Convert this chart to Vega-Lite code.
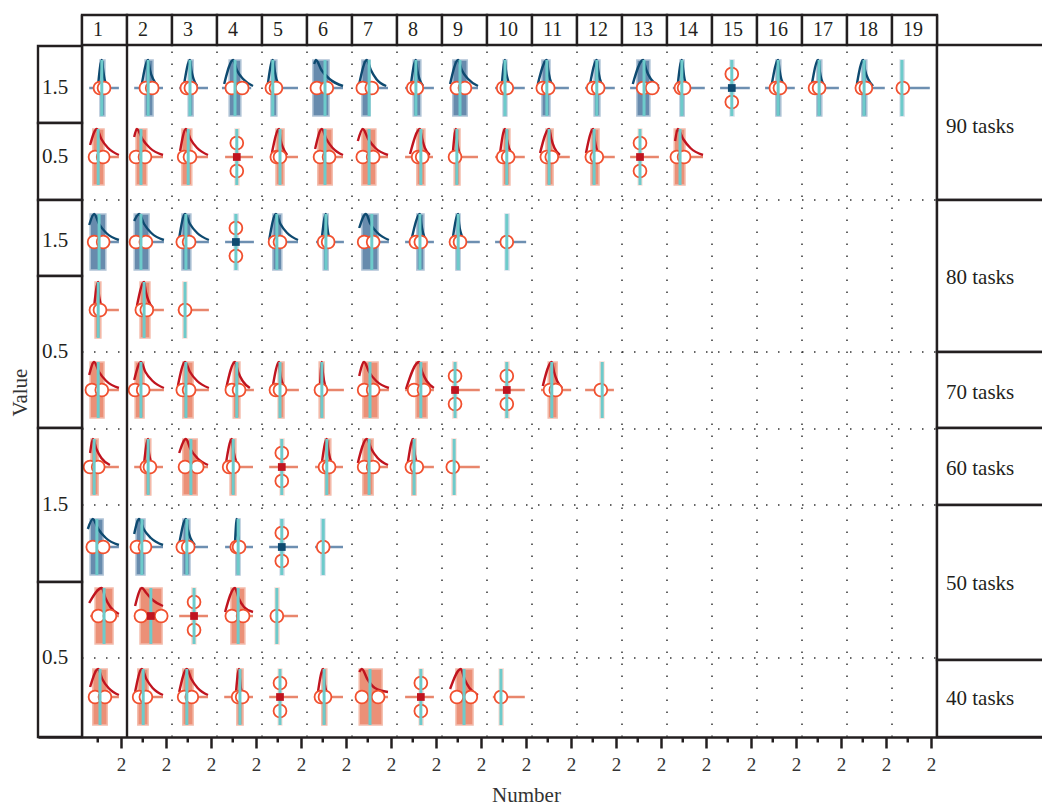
{
 "$schema": "https://vega.github.io/schema/vega-lite/v6.json",
 "width": 1004, "height": 722,
 "autosize": {"type": "none"},
 "padding": {"left": 38, "top": 15, "right": 0, "bottom": 69},
 "background": "white",
 "config": {"view": {"stroke": null}, "font": "Liberation Serif"},
 "datasets": {
  "hgrid": [{"y":53.7,"x0":0,"x1":19},{"y":38.5,"x0":0,"x1":19},{"y":30.8,"x0":0,"x1":19},{"y":23.2,"x0":0,"x1":19},{"y":7.9,"x0":0,"x1":19}],
  "vgrid": [{"x":2},{"x":3},{"x":4},{"x":5},{"x":6},{"x":7},{"x":8},{"x":9},{"x":10},{"x":11},{"x":12},{"x":13},{"x":14},{"x":15},{"x":16},{"x":17},{"x":18}],
  "vsolid": [{"x":0},{"x":1},{"x":19}],
  "sticks": [{"x":0.35},{"x":1.35},{"x":2.35},{"x":3.35},{"x":4.35},{"x":5.35},{"x":6.35},{"x":7.35},{"x":8.35},{"x":9.35},{"x":10.35},{"x":11.35},{"x":12.35},{"x":13.35},{"x":14.35},{"x":15.35},{"x":16.35},{"x":17.35},{"x":18.35}],
  "cols": [{"n":"1","a":0,"b":1},{"n":"2","a":1,"b":2},{"n":"3","a":2,"b":3},{"n":"4","a":3,"b":4},{"n":"5","a":4,"b":5},{"n":"6","a":5,"b":6},{"n":"7","a":6,"b":7},{"n":"8","a":7,"b":8},{"n":"9","a":8,"b":9},{"n":"10","a":9,"b":10},{"n":"11","a":10,"b":11},{"n":"12","a":11,"b":12},{"n":"13","a":12,"b":13},{"n":"14","a":13,"b":14},{"n":"15","a":14,"b":15},{"n":"16","a":15,"b":16},{"n":"17","a":16,"b":17},{"n":"18","a":17,"b":18},{"n":"19","a":18,"b":19}],
  "lstrip": [{"lab":"1.5","y0":61.4,"y1":69.1,"ly":64.9},{"lab":"0.5","y0":53.7,"y1":61.4,"ly":58.0},{"lab":"1.5","y0":46.1,"y1":53.7,"ly":49.6},{"lab":"0.5","y0":30.9,"y1":46.1,"ly":38.5},{"lab":"1.5","y0":15.5,"y1":30.9,"ly":23.2},{"lab":"0.5","y0":0,"y1":15.5,"ly":7.9}],
  "rstrip": [{"lab":"90 tasks","y0":53.7,"y1":69.2,"ly":61.0},{"lab":"80 tasks","y0":38.5,"y1":53.7,"ly":45.9},{"lab":"70 tasks","y0":30.9,"y1":38.5,"ly":34.4},{"lab":"60 tasks","y0":23.2,"y1":30.9,"ly":26.8},{"lab":"50 tasks","y0":7.7,"y1":23.2,"ly":15.3},{"lab":"40 tasks","y0":0,"y1":7.7,"ly":3.8}],
  "glyph": [
   {"g":"A1","k":"b","t":"N","yc":64.9,"y1":62.1,"y2":67.7,"bl":0.4,"br":0.51,"cx":0.44,"hl":0.16,"hr":0.82},
   {"g":"A2","k":"b","t":"N","yc":64.9,"y1":62.1,"y2":67.7,"bl":1.4,"br":1.58,"cx":1.47,"hl":1.16,"hr":1.8},
   {"g":"A3","k":"b","t":"N","yc":64.9,"y1":62.1,"y2":67.7,"bl":2.36,"br":2.47,"cx":2.4,"hl":2.16,"hr":2.8},
   {"g":"A4","k":"b","t":"N","yc":64.9,"y1":62.1,"y2":67.7,"bl":3.27,"br":3.53,"cx":3.4,"hl":3.11,"hr":3.76},
   {"g":"A5","k":"b","t":"N","yc":64.9,"y1":62.1,"y2":67.7,"bl":4.2,"br":4.33,"cx":4.24,"hl":4.13,"hr":4.8},
   {"g":"A6","k":"b","t":"N","yc":64.9,"y1":62.1,"y2":67.7,"bl":5.13,"br":5.49,"cx":5.4,"hl":5.07,"hr":5.8},
   {"g":"A7","k":"b","t":"N","yc":64.9,"y1":62.1,"y2":67.7,"bl":6.22,"br":6.4,"cx":6.38,"hl":6.18,"hr":6.8},
   {"g":"A8","k":"b","t":"N","yc":64.9,"y1":62.1,"y2":67.7,"bl":7.36,"br":7.53,"cx":7.42,"hl":7.18,"hr":7.82},
   {"g":"A9","k":"b","t":"N","yc":64.9,"y1":62.1,"y2":67.7,"bl":8.24,"br":8.56,"cx":8.4,"hl":8.18,"hr":8.8},
   {"g":"A10","k":"b","t":"N","yc":64.9,"y1":62.1,"y2":67.7,"bl":9.36,"br":9.44,"cx":9.4,"hl":9.18,"hr":9.84},
   {"g":"A11","k":"b","t":"N","yc":64.9,"y1":62.1,"y2":67.7,"bl":10.22,"br":10.4,"cx":10.33,"hl":10.11,"hr":10.82},
   {"g":"A12","k":"b","t":"N","yc":64.9,"y1":62.1,"y2":67.7,"bl":11.38,"br":11.51,"cx":11.44,"hl":11.18,"hr":11.84},
   {"g":"A13","k":"b","t":"N","yc":64.9,"y1":62.1,"y2":67.7,"bl":12.33,"br":12.62,"cx":12.49,"hl":12.18,"hr":12.84},
   {"g":"A14","k":"b","t":"N","yc":64.9,"y1":62.1,"y2":67.7,"bl":13.29,"br":13.38,"cx":13.33,"hl":13.13,"hr":13.84},
   {"g":"A15","k":"b","t":"X","yc":64.9,"y1":62.1,"y2":67.7,"bl":14.4,"br":14.49,"cx":14.44,"hl":14.18,"hr":14.84},
   {"g":"A16","k":"b","t":"N","yc":64.9,"y1":62.1,"y2":67.7,"bl":15.42,"br":15.53,"cx":15.47,"hl":15.18,"hr":15.84},
   {"g":"A17","k":"b","t":"N","yc":64.9,"y1":62.1,"y2":67.7,"bl":16.33,"br":16.44,"cx":16.38,"hl":16.18,"hr":16.82},
   {"g":"A18","k":"b","t":"N","yc":64.9,"y1":62.1,"y2":67.7,"bl":17.33,"br":17.44,"cx":17.38,"hl":17.18,"hr":17.84},
   {"g":"A19","k":"b","t":"S","yc":64.9,"y1":62.1,"y2":67.7,"bl":18.18,"br":18.27,"cx":18.22,"hl":18.11,"hr":18.84},
   {"g":"B1","k":"r","t":"N","yc":58.0,"y1":55.2,"y2":60.8,"bl":0.24,"br":0.49,"cx":0.36,"hl":0.18,"hr":0.82},
   {"g":"B2","k":"r","t":"N","yc":58.0,"y1":55.2,"y2":60.8,"bl":1.2,"br":1.44,"cx":1.31,"hl":1.16,"hr":1.8},
   {"g":"B3","k":"r","t":"N","yc":58.0,"y1":55.2,"y2":60.8,"bl":2.22,"br":2.44,"cx":2.36,"hl":2.18,"hr":2.8},
   {"g":"B4","k":"r","t":"X","yc":58.0,"y1":55.2,"y2":60.8,"bl":3.4,"br":3.49,"cx":3.44,"hl":3.18,"hr":3.8},
   {"g":"B5","k":"r","t":"N","yc":58.0,"y1":55.2,"y2":60.8,"bl":4.31,"br":4.49,"cx":4.4,"hl":4.18,"hr":4.8},
   {"g":"B6","k":"r","t":"N","yc":58.0,"y1":55.2,"y2":60.8,"bl":5.24,"br":5.56,"cx":5.4,"hl":5.18,"hr":5.8},
   {"g":"B7","k":"r","t":"N","yc":58.0,"y1":55.2,"y2":60.8,"bl":6.22,"br":6.53,"cx":6.38,"hl":6.18,"hr":6.8},
   {"g":"B8","k":"r","t":"N","yc":58.0,"y1":55.2,"y2":60.8,"bl":7.44,"br":7.62,"cx":7.53,"hl":7.18,"hr":7.8},
   {"g":"B9","k":"r","t":"N","yc":58.0,"y1":55.2,"y2":60.8,"bl":8.27,"br":8.4,"cx":8.33,"hl":8.18,"hr":8.8},
   {"g":"B10","k":"r","t":"N","yc":58.0,"y1":55.2,"y2":60.8,"bl":9.36,"br":9.51,"cx":9.44,"hl":9.18,"hr":9.84},
   {"g":"B11","k":"r","t":"N","yc":58.0,"y1":55.2,"y2":60.8,"bl":10.31,"br":10.47,"cx":10.38,"hl":10.18,"hr":10.84},
   {"g":"B12","k":"r","t":"N","yc":58.0,"y1":55.2,"y2":60.8,"bl":11.31,"br":11.49,"cx":11.38,"hl":11.18,"hr":11.84},
   {"g":"B13","k":"r","t":"X","yc":58.0,"y1":55.2,"y2":60.8,"bl":12.36,"br":12.44,"cx":12.4,"hl":12.18,"hr":12.82},
   {"g":"B14","k":"r","t":"N","yc":58.0,"y1":55.2,"y2":60.8,"bl":13.16,"br":13.4,"cx":13.29,"hl":13.18,"hr":13.8},
   {"g":"C1","k":"b","t":"N","yc":49.5,"y1":46.7,"y2":52.3,"bl":0.18,"br":0.53,"cx":0.38,"hl":0.18,"hr":0.82},
   {"g":"C2","k":"b","t":"N","yc":49.5,"y1":46.7,"y2":52.3,"bl":1.16,"br":1.49,"cx":1.31,"hl":1.16,"hr":1.82},
   {"g":"C3","k":"b","t":"N","yc":49.5,"y1":46.7,"y2":52.3,"bl":2.22,"br":2.42,"cx":2.31,"hl":2.18,"hr":2.82},
   {"g":"C4","k":"b","t":"X","yc":49.5,"y1":46.7,"y2":52.3,"bl":3.38,"br":3.47,"cx":3.42,"hl":3.18,"hr":3.82},
   {"g":"C5","k":"b","t":"N","yc":49.5,"y1":46.7,"y2":52.3,"bl":4.24,"br":4.44,"cx":4.33,"hl":4.18,"hr":4.8},
   {"g":"C6","k":"b","t":"N","yc":49.5,"y1":46.7,"y2":52.3,"bl":5.36,"br":5.47,"cx":5.42,"hl":5.2,"hr":5.82},
   {"g":"C7","k":"b","t":"N","yc":49.5,"y1":46.7,"y2":52.3,"bl":6.22,"br":6.58,"cx":6.44,"hl":6.18,"hr":6.82},
   {"g":"C8","k":"b","t":"N","yc":49.5,"y1":46.7,"y2":52.3,"bl":7.44,"br":7.6,"cx":7.51,"hl":7.18,"hr":7.82},
   {"g":"C9","k":"b","t":"N","yc":49.5,"y1":46.7,"y2":52.3,"bl":8.31,"br":8.4,"cx":8.36,"hl":8.18,"hr":8.84},
   {"g":"C10","k":"b","t":"S","yc":49.5,"y1":46.7,"y2":52.3,"bl":9.4,"br":9.49,"cx":9.44,"hl":9.18,"hr":9.87},
   {"g":"D1","k":"r","t":"N","yc":42.7,"y1":39.9,"y2":45.5,"bl":0.29,"br":0.42,"cx":0.36,"hl":0.2,"hr":0.82},
   {"g":"D2","k":"r","t":"N","yc":42.7,"y1":39.9,"y2":45.5,"bl":1.29,"br":1.51,"cx":1.38,"hl":1.18,"hr":1.82},
   {"g":"D3","k":"r","t":"S","yc":42.7,"y1":39.9,"y2":45.5,"bl":2.24,"br":2.33,"cx":2.29,"hl":2.13,"hr":2.82},
   {"g":"E1","k":"r","t":"N","yc":34.7,"y1":31.9,"y2":37.5,"bl":0.18,"br":0.49,"cx":0.36,"hl":0.18,"hr":0.82},
   {"g":"E2","k":"r","t":"N","yc":34.7,"y1":31.9,"y2":37.5,"bl":1.18,"br":1.38,"cx":1.31,"hl":1.18,"hr":1.82},
   {"g":"E3","k":"r","t":"N","yc":34.7,"y1":31.9,"y2":37.5,"bl":2.24,"br":2.47,"cx":2.31,"hl":2.18,"hr":2.82},
   {"g":"E4","k":"r","t":"N","yc":34.7,"y1":31.9,"y2":37.5,"bl":3.36,"br":3.51,"cx":3.44,"hl":3.18,"hr":3.82},
   {"g":"E5","k":"r","t":"N","yc":34.7,"y1":31.9,"y2":37.5,"bl":4.36,"br":4.49,"cx":4.4,"hl":4.16,"hr":4.82},
   {"g":"E6","k":"r","t":"N","yc":34.7,"y1":31.9,"y2":37.5,"bl":5.27,"br":5.38,"cx":5.33,"hl":5.2,"hr":5.82},
   {"g":"E7","k":"r","t":"N","yc":34.7,"y1":31.9,"y2":37.5,"bl":6.24,"br":6.58,"cx":6.4,"hl":6.18,"hr":6.82},
   {"g":"E8","k":"r","t":"N","yc":34.7,"y1":31.9,"y2":37.5,"bl":7.42,"br":7.67,"cx":7.53,"hl":7.18,"hr":7.82},
   {"g":"E9","k":"r","t":"X","yc":34.7,"y1":31.9,"y2":37.5,"bl":8.24,"br":8.33,"cx":8.29,"hl":8.2,"hr":8.84},
   {"g":"E10","k":"r","t":"X","yc":34.7,"y1":31.9,"y2":37.5,"bl":9.4,"br":9.49,"cx":9.44,"hl":9.18,"hr":9.84},
   {"g":"E11","k":"r","t":"N","yc":34.7,"y1":31.9,"y2":37.5,"bl":10.36,"br":10.56,"cx":10.44,"hl":10.2,"hr":10.87},
   {"g":"E12","k":"r","t":"S","yc":34.7,"y1":31.9,"y2":37.5,"bl":11.51,"br":11.6,"cx":11.56,"hl":11.18,"hr":11.82},
   {"g":"F1","k":"r","t":"N","yc":27.0,"y1":24.2,"y2":29.8,"bl":0.2,"br":0.36,"cx":0.27,"hl":0.18,"hr":0.82},
   {"g":"F2","k":"r","t":"N","yc":27.0,"y1":24.2,"y2":29.8,"bl":1.4,"br":1.53,"cx":1.47,"hl":1.16,"hr":1.8},
   {"g":"F3","k":"r","t":"N","yc":27.0,"y1":24.2,"y2":29.8,"bl":2.24,"br":2.56,"cx":2.42,"hl":2.18,"hr":2.8},
   {"g":"F4","k":"r","t":"N","yc":27.0,"y1":24.2,"y2":29.8,"bl":3.29,"br":3.42,"cx":3.36,"hl":3.18,"hr":3.8},
   {"g":"F5","k":"r","t":"X","yc":27.0,"y1":24.2,"y2":29.8,"bl":4.4,"br":4.49,"cx":4.44,"hl":4.16,"hr":4.8},
   {"g":"F6","k":"r","t":"N","yc":27.0,"y1":24.2,"y2":29.8,"bl":5.4,"br":5.53,"cx":5.44,"hl":5.18,"hr":5.8},
   {"g":"F7","k":"r","t":"N","yc":27.0,"y1":24.2,"y2":29.8,"bl":6.24,"br":6.47,"cx":6.38,"hl":6.18,"hr":6.8},
   {"g":"F8","k":"r","t":"N","yc":27.0,"y1":24.2,"y2":29.8,"bl":7.33,"br":7.42,"cx":7.38,"hl":7.18,"hr":7.82},
   {"g":"F9","k":"r","t":"S","yc":27.0,"y1":24.2,"y2":29.8,"bl":8.22,"br":8.31,"cx":8.27,"hl":8.11,"hr":8.84},
   {"g":"G1","k":"b","t":"N","yc":19.0,"y1":16.2,"y2":21.8,"bl":0.18,"br":0.47,"cx":0.33,"hl":0.18,"hr":0.82},
   {"g":"G2","k":"b","t":"N","yc":19.0,"y1":16.2,"y2":21.8,"bl":1.2,"br":1.4,"cx":1.33,"hl":1.16,"hr":1.8},
   {"g":"G3","k":"b","t":"N","yc":19.0,"y1":16.2,"y2":21.8,"bl":2.24,"br":2.4,"cx":2.33,"hl":2.16,"hr":2.8},
   {"g":"G4","k":"b","t":"N","yc":19.0,"y1":16.2,"y2":21.8,"bl":3.42,"br":3.51,"cx":3.47,"hl":3.18,"hr":3.8},
   {"g":"G5","k":"b","t":"X","yc":19.0,"y1":16.2,"y2":21.8,"bl":4.4,"br":4.49,"cx":4.44,"hl":4.16,"hr":4.8},
   {"g":"G6","k":"b","t":"S","yc":19.0,"y1":16.2,"y2":21.8,"bl":5.31,"br":5.4,"cx":5.36,"hl":5.18,"hr":5.8},
   {"g":"H1","k":"r","t":"N","yc":12.1,"y1":9.3,"y2":14.9,"bl":0.29,"br":0.69,"cx":0.49,"hl":0.18,"hr":0.82},
   {"g":"H2","k":"r","t":"N","yc":12.1,"y1":9.3,"y2":14.9,"bl":1.29,"br":1.78,"cx":1.53,"hl":1.18,"hr":1.8},
   {"g":"H3","k":"r","t":"X","yc":12.1,"y1":9.3,"y2":14.9,"bl":2.44,"br":2.53,"cx":2.49,"hl":2.16,"hr":2.8},
   {"g":"H4","k":"r","t":"N","yc":12.1,"y1":9.3,"y2":14.9,"bl":3.31,"br":3.62,"cx":3.47,"hl":3.18,"hr":3.8},
   {"g":"H5","k":"r","t":"S","yc":12.1,"y1":9.3,"y2":14.9,"bl":4.29,"br":4.38,"cx":4.33,"hl":4.18,"hr":4.8},
   {"g":"I1","k":"r","t":"N","yc":4.0,"y1":1.2,"y2":6.8,"bl":0.24,"br":0.56,"cx":0.4,"hl":0.18,"hr":0.82},
   {"g":"I2","k":"r","t":"N","yc":4.0,"y1":1.2,"y2":6.8,"bl":1.24,"br":1.47,"cx":1.36,"hl":1.18,"hr":1.8},
   {"g":"I3","k":"r","t":"N","yc":4.0,"y1":1.2,"y2":6.8,"bl":2.24,"br":2.47,"cx":2.33,"hl":2.16,"hr":2.8},
   {"g":"I4","k":"r","t":"N","yc":4.0,"y1":1.2,"y2":6.8,"bl":3.44,"br":3.58,"cx":3.51,"hl":3.16,"hr":3.8},
   {"g":"I5","k":"r","t":"X","yc":4.0,"y1":1.2,"y2":6.8,"bl":4.36,"br":4.44,"cx":4.4,"hl":4.16,"hr":4.8},
   {"g":"I6","k":"r","t":"N","yc":4.0,"y1":1.2,"y2":6.8,"bl":5.33,"br":5.44,"cx":5.38,"hl":5.18,"hr":5.8},
   {"g":"I7","k":"r","t":"N","yc":4.0,"y1":1.2,"y2":6.8,"bl":6.16,"br":6.67,"cx":6.4,"hl":6.18,"hr":6.8},
   {"g":"I8","k":"r","t":"X","yc":4.0,"y1":1.2,"y2":6.8,"bl":7.49,"br":7.58,"cx":7.53,"hl":7.18,"hr":7.82},
   {"g":"I9","k":"r","t":"N","yc":4.0,"y1":1.2,"y2":6.8,"bl":8.31,"br":8.69,"cx":8.49,"hl":8.18,"hr":8.8},
   {"g":"I10","k":"r","t":"S","yc":4.0,"y1":1.2,"y2":6.8,"bl":9.27,"br":9.36,"cx":9.31,"hl":9.13,"hr":9.84}
  ],
  "dens": [
   {"g":"A1","k":"b","x":0.36,"y":65.3},{"g":"A1","k":"b","x":0.44,"y":67.7},{"g":"A1","k":"b","x":0.47,"y":66.7},{"g":"A1","k":"b","x":0.5,"y":65.8},{"g":"A1","k":"b","x":0.56,"y":65.1},
   {"g":"A2","k":"b","x":1.33,"y":65.3},{"g":"A2","k":"b","x":1.47,"y":67.7},{"g":"A2","k":"b","x":1.51,"y":66.7},{"g":"A2","k":"b","x":1.58,"y":65.8},{"g":"A2","k":"b","x":1.69,"y":65.1},
   {"g":"A3","k":"b","x":2.27,"y":65.3},{"g":"A3","k":"b","x":2.4,"y":67.7},{"g":"A3","k":"b","x":2.43,"y":66.7},{"g":"A3","k":"b","x":2.48,"y":65.8},{"g":"A3","k":"b","x":2.56,"y":65.1},
   {"g":"A4","k":"b","x":3.16,"y":65.3},{"g":"A4","k":"b","x":3.36,"y":67.7},{"g":"A4","k":"b","x":3.44,"y":66.7},{"g":"A4","k":"b","x":3.58,"y":65.8},{"g":"A4","k":"b","x":3.8,"y":65.1},
   {"g":"A5","k":"b","x":4.13,"y":65.3},{"g":"A5","k":"b","x":4.24,"y":67.7},{"g":"A5","k":"b","x":4.28,"y":66.7},{"g":"A5","k":"b","x":4.32,"y":65.8},{"g":"A5","k":"b","x":4.4,"y":65.1},
   {"g":"A6","k":"b","x":5.16,"y":67.3},{"g":"A6","k":"b","x":5.2,"y":67.7},{"g":"A6","k":"b","x":5.32,"y":66.7},{"g":"A6","k":"b","x":5.5,"y":65.8},{"g":"A6","k":"b","x":5.8,"y":65.1},
   {"g":"A7","k":"b","x":6.16,"y":65.3},{"g":"A7","k":"b","x":6.33,"y":67.7},{"g":"A7","k":"b","x":6.42,"y":66.7},{"g":"A7","k":"b","x":6.54,"y":65.8},{"g":"A7","k":"b","x":6.76,"y":65.1},
   {"g":"A8","k":"b","x":7.31,"y":65.3},{"g":"A8","k":"b","x":7.42,"y":67.7},{"g":"A8","k":"b","x":7.45,"y":66.7},{"g":"A8","k":"b","x":7.5,"y":65.8},{"g":"A8","k":"b","x":7.58,"y":65.1},
   {"g":"A9","k":"b","x":8.18,"y":65.3},{"g":"A9","k":"b","x":8.36,"y":67.7},{"g":"A9","k":"b","x":8.44,"y":66.7},{"g":"A9","k":"b","x":8.58,"y":65.8},{"g":"A9","k":"b","x":8.8,"y":65.1},
   {"g":"A10","k":"b","x":9.33,"y":65.3},{"g":"A10","k":"b","x":9.4,"y":67.7},{"g":"A10","k":"b","x":9.42,"y":66.7},{"g":"A10","k":"b","x":9.46,"y":65.8},{"g":"A10","k":"b","x":9.51,"y":65.1},
   {"g":"A11","k":"b","x":10.13,"y":65.3},{"g":"A11","k":"b","x":10.33,"y":67.7},{"g":"A11","k":"b","x":10.36,"y":66.7},{"g":"A11","k":"b","x":10.4,"y":65.8},{"g":"A11","k":"b","x":10.47,"y":65.1},
   {"g":"A12","k":"b","x":11.29,"y":65.3},{"g":"A12","k":"b","x":11.44,"y":67.7},{"g":"A12","k":"b","x":11.47,"y":66.7},{"g":"A12","k":"b","x":11.51,"y":65.8},{"g":"A12","k":"b","x":11.58,"y":65.1},
   {"g":"A13","k":"b","x":12.24,"y":65.3},{"g":"A13","k":"b","x":12.47,"y":67.7},{"g":"A13","k":"b","x":12.54,"y":66.7},{"g":"A13","k":"b","x":12.64,"y":65.8},{"g":"A13","k":"b","x":12.82,"y":65.1},
   {"g":"A14","k":"b","x":13.24,"y":65.3},{"g":"A14","k":"b","x":13.33,"y":67.7},{"g":"A14","k":"b","x":13.36,"y":66.7},{"g":"A14","k":"b","x":13.39,"y":65.8},{"g":"A14","k":"b","x":13.44,"y":65.1},
   {"g":"A16","k":"b","x":15.33,"y":65.3},{"g":"A16","k":"b","x":15.47,"y":67.7},{"g":"A16","k":"b","x":15.5,"y":66.7},{"g":"A16","k":"b","x":15.54,"y":65.8},{"g":"A16","k":"b","x":15.62,"y":65.1},
   {"g":"A17","k":"b","x":16.22,"y":65.3},{"g":"A17","k":"b","x":16.36,"y":67.7},{"g":"A17","k":"b","x":16.39,"y":66.7},{"g":"A17","k":"b","x":16.43,"y":65.8},{"g":"A17","k":"b","x":16.51,"y":65.1},
   {"g":"A18","k":"b","x":17.22,"y":65.3},{"g":"A18","k":"b","x":17.36,"y":67.7},{"g":"A18","k":"b","x":17.4,"y":66.7},{"g":"A18","k":"b","x":17.47,"y":65.8},{"g":"A18","k":"b","x":17.58,"y":65.1},
   {"g":"B1","k":"r","x":0.18,"y":59.2},{"g":"B1","k":"r","x":0.33,"y":60.8},{"g":"B1","k":"r","x":0.43,"y":59.8},{"g":"B1","k":"r","x":0.58,"y":58.9},{"g":"B1","k":"r","x":0.82,"y":58.2},
   {"g":"B2","k":"r","x":1.16,"y":60.0},{"g":"B2","k":"r","x":1.22,"y":60.8},{"g":"B2","k":"r","x":1.34,"y":59.8},{"g":"B2","k":"r","x":1.51,"y":58.9},{"g":"B2","k":"r","x":1.8,"y":58.2},
   {"g":"B3","k":"r","x":2.18,"y":58.6},{"g":"B3","k":"r","x":2.31,"y":60.8},{"g":"B3","k":"r","x":2.41,"y":59.8},{"g":"B3","k":"r","x":2.56,"y":58.9},{"g":"B3","k":"r","x":2.8,"y":58.2},
   {"g":"B5","k":"r","x":4.22,"y":58.4},{"g":"B5","k":"r","x":4.38,"y":60.8},{"g":"B5","k":"r","x":4.41,"y":59.8},{"g":"B5","k":"r","x":4.47,"y":58.9},{"g":"B5","k":"r","x":4.56,"y":58.2},
   {"g":"B6","k":"r","x":5.18,"y":58.8},{"g":"B6","k":"r","x":5.33,"y":60.8},{"g":"B6","k":"r","x":5.43,"y":59.8},{"g":"B6","k":"r","x":5.57,"y":58.9},{"g":"B6","k":"r","x":5.8,"y":58.2},
   {"g":"B7","k":"r","x":6.13,"y":59.6},{"g":"B7","k":"r","x":6.24,"y":60.8},{"g":"B7","k":"r","x":6.36,"y":59.8},{"g":"B7","k":"r","x":6.52,"y":58.9},{"g":"B7","k":"r","x":6.8,"y":58.2},
   {"g":"B8","k":"r","x":7.29,"y":58.3},{"g":"B8","k":"r","x":7.51,"y":60.8},{"g":"B8","k":"r","x":7.56,"y":59.8},{"g":"B8","k":"r","x":7.62,"y":58.9},{"g":"B8","k":"r","x":7.73,"y":58.2},
   {"g":"B9","k":"r","x":8.24,"y":58.4},{"g":"B9","k":"r","x":8.31,"y":60.8},{"g":"B9","k":"r","x":8.33,"y":59.8},{"g":"B9","k":"r","x":8.36,"y":58.9},{"g":"B9","k":"r","x":8.4,"y":58.2},
   {"g":"B10","k":"r","x":9.29,"y":58.4},{"g":"B10","k":"r","x":9.4,"y":60.8},{"g":"B10","k":"r","x":9.44,"y":59.8},{"g":"B10","k":"r","x":9.49,"y":58.9},{"g":"B10","k":"r","x":9.58,"y":58.2},
   {"g":"B11","k":"r","x":10.18,"y":58.4},{"g":"B11","k":"r","x":10.38,"y":60.8},{"g":"B11","k":"r","x":10.43,"y":59.8},{"g":"B11","k":"r","x":10.5,"y":58.9},{"g":"B11","k":"r","x":10.62,"y":58.2},
   {"g":"B12","k":"r","x":11.2,"y":58.4},{"g":"B12","k":"r","x":11.36,"y":60.8},{"g":"B12","k":"r","x":11.39,"y":59.8},{"g":"B12","k":"r","x":11.43,"y":58.9},{"g":"B12","k":"r","x":11.51,"y":58.2},
   {"g":"B14","k":"r","x":13.18,"y":59.6},{"g":"B14","k":"r","x":13.24,"y":60.8},{"g":"B14","k":"r","x":13.36,"y":59.8},{"g":"B14","k":"r","x":13.52,"y":58.9},{"g":"B14","k":"r","x":13.8,"y":58.2},
   {"g":"C1","k":"b","x":0.16,"y":51.2},{"g":"C1","k":"b","x":0.27,"y":52.3},{"g":"C1","k":"b","x":0.38,"y":51.3},{"g":"C1","k":"b","x":0.54,"y":50.4},{"g":"C1","k":"b","x":0.82,"y":49.7},
   {"g":"C2","k":"b","x":1.16,"y":51.6},{"g":"C2","k":"b","x":1.27,"y":52.3},{"g":"C2","k":"b","x":1.38,"y":51.3},{"g":"C2","k":"b","x":1.54,"y":50.4},{"g":"C2","k":"b","x":1.82,"y":49.7},
   {"g":"C3","k":"b","x":2.16,"y":49.9},{"g":"C3","k":"b","x":2.29,"y":52.3},{"g":"C3","k":"b","x":2.4,"y":51.3},{"g":"C3","k":"b","x":2.56,"y":50.4},{"g":"C3","k":"b","x":2.82,"y":49.7},
   {"g":"C5","k":"b","x":4.16,"y":49.7},{"g":"C5","k":"b","x":4.31,"y":52.3},{"g":"C5","k":"b","x":4.41,"y":51.3},{"g":"C5","k":"b","x":4.56,"y":50.4},{"g":"C5","k":"b","x":4.8,"y":49.7},
   {"g":"C6","k":"b","x":5.33,"y":49.9},{"g":"C6","k":"b","x":5.42,"y":52.3},{"g":"C6","k":"b","x":5.44,"y":51.3},{"g":"C6","k":"b","x":5.47,"y":50.4},{"g":"C6","k":"b","x":5.51,"y":49.7},
   {"g":"C7","k":"b","x":6.16,"y":50.9},{"g":"C7","k":"b","x":6.31,"y":52.3},{"g":"C7","k":"b","x":6.41,"y":51.3},{"g":"C7","k":"b","x":6.57,"y":50.4},{"g":"C7","k":"b","x":6.82,"y":49.7},
   {"g":"C8","k":"b","x":7.33,"y":49.9},{"g":"C8","k":"b","x":7.51,"y":52.3},{"g":"C8","k":"b","x":7.54,"y":51.3},{"g":"C8","k":"b","x":7.58,"y":50.4},{"g":"C8","k":"b","x":7.64,"y":49.7},
   {"g":"C9","k":"b","x":8.24,"y":49.9},{"g":"C9","k":"b","x":8.36,"y":52.3},{"g":"C9","k":"b","x":8.38,"y":51.3},{"g":"C9","k":"b","x":8.42,"y":50.4},{"g":"C9","k":"b","x":8.49,"y":49.7},
   {"g":"D1","k":"r","x":0.27,"y":43.1},{"g":"D1","k":"r","x":0.36,"y":45.5},{"g":"D1","k":"r","x":0.37,"y":44.5},{"g":"D1","k":"r","x":0.4,"y":43.6},{"g":"D1","k":"r","x":0.44,"y":42.9},
   {"g":"D2","k":"r","x":1.22,"y":43.1},{"g":"D2","k":"r","x":1.38,"y":45.5},{"g":"D2","k":"r","x":1.42,"y":44.5},{"g":"D2","k":"r","x":1.48,"y":43.6},{"g":"D2","k":"r","x":1.58,"y":42.9},
   {"g":"E1","k":"r","x":0.16,"y":36.2},{"g":"E1","k":"r","x":0.27,"y":37.5},{"g":"E1","k":"r","x":0.38,"y":36.5},{"g":"E1","k":"r","x":0.54,"y":35.6},{"g":"E1","k":"r","x":0.82,"y":34.9},
   {"g":"E2","k":"r","x":1.16,"y":35.7},{"g":"E2","k":"r","x":1.31,"y":37.5},{"g":"E2","k":"r","x":1.41,"y":36.5},{"g":"E2","k":"r","x":1.57,"y":35.6},{"g":"E2","k":"r","x":1.82,"y":34.9},
   {"g":"E3","k":"r","x":2.13,"y":35.1},{"g":"E3","k":"r","x":2.29,"y":37.5},{"g":"E3","k":"r","x":2.4,"y":36.5},{"g":"E3","k":"r","x":2.56,"y":35.6},{"g":"E3","k":"r","x":2.82,"y":34.9},
   {"g":"E4","k":"r","x":3.2,"y":34.8},{"g":"E4","k":"r","x":3.4,"y":37.5},{"g":"E4","k":"r","x":3.47,"y":36.5},{"g":"E4","k":"r","x":3.57,"y":35.6},{"g":"E4","k":"r","x":3.73,"y":34.9},
   {"g":"E5","k":"r","x":4.24,"y":35.1},{"g":"E5","k":"r","x":4.38,"y":37.5},{"g":"E5","k":"r","x":4.4,"y":36.5},{"g":"E5","k":"r","x":4.44,"y":35.6},{"g":"E5","k":"r","x":4.51,"y":34.9},
   {"g":"E6","k":"r","x":5.29,"y":35.1},{"g":"E6","k":"r","x":5.33,"y":37.5},{"g":"E6","k":"r","x":5.35,"y":36.5},{"g":"E6","k":"r","x":5.38,"y":35.6},{"g":"E6","k":"r","x":5.42,"y":34.9},
   {"g":"E7","k":"r","x":6.16,"y":36.1},{"g":"E7","k":"r","x":6.27,"y":37.5},{"g":"E7","k":"r","x":6.38,"y":36.5},{"g":"E7","k":"r","x":6.54,"y":35.6},{"g":"E7","k":"r","x":6.82,"y":34.9},
   {"g":"E8","k":"r","x":7.2,"y":34.8},{"g":"E8","k":"r","x":7.49,"y":37.5},{"g":"E8","k":"r","x":7.56,"y":36.5},{"g":"E8","k":"r","x":7.66,"y":35.6},{"g":"E8","k":"r","x":7.82,"y":34.9},
   {"g":"E11","k":"r","x":10.24,"y":35.1},{"g":"E11","k":"r","x":10.44,"y":37.5},{"g":"E11","k":"r","x":10.49,"y":36.5},{"g":"E11","k":"r","x":10.56,"y":35.6},{"g":"E11","k":"r","x":10.67,"y":34.9},
   {"g":"F1","k":"r","x":0.18,"y":28.4},{"g":"F1","k":"r","x":0.24,"y":29.8},{"g":"F1","k":"r","x":0.32,"y":28.8},{"g":"F1","k":"r","x":0.43,"y":27.9},{"g":"F1","k":"r","x":0.62,"y":27.2},
   {"g":"F2","k":"r","x":1.38,"y":27.4},{"g":"F2","k":"r","x":1.47,"y":29.8},{"g":"F2","k":"r","x":1.48,"y":28.8},{"g":"F2","k":"r","x":1.51,"y":27.9},{"g":"F2","k":"r","x":1.56,"y":27.2},
   {"g":"F3","k":"r","x":2.16,"y":28.4},{"g":"F3","k":"r","x":2.31,"y":29.8},{"g":"F3","k":"r","x":2.41,"y":28.8},{"g":"F3","k":"r","x":2.56,"y":27.9},{"g":"F3","k":"r","x":2.8,"y":27.2},
   {"g":"F4","k":"r","x":3.2,"y":27.4},{"g":"F4","k":"r","x":3.33,"y":29.8},{"g":"F4","k":"r","x":3.36,"y":28.8},{"g":"F4","k":"r","x":3.4,"y":27.9},{"g":"F4","k":"r","x":3.47,"y":27.2},
   {"g":"F6","k":"r","x":5.33,"y":27.4},{"g":"F6","k":"r","x":5.44,"y":29.8},{"g":"F6","k":"r","x":5.47,"y":28.8},{"g":"F6","k":"r","x":5.51,"y":27.9},{"g":"F6","k":"r","x":5.58,"y":27.2},
   {"g":"F7","k":"r","x":6.13,"y":27.4},{"g":"F7","k":"r","x":6.33,"y":29.8},{"g":"F7","k":"r","x":6.43,"y":28.8},{"g":"F7","k":"r","x":6.57,"y":27.9},{"g":"F7","k":"r","x":6.8,"y":27.2},
   {"g":"F8","k":"r","x":7.24,"y":27.4},{"g":"F8","k":"r","x":7.36,"y":29.8},{"g":"F8","k":"r","x":7.38,"y":28.8},{"g":"F8","k":"r","x":7.41,"y":27.9},{"g":"F8","k":"r","x":7.47,"y":27.2},
   {"g":"G1","k":"b","x":0.13,"y":20.8},{"g":"G1","k":"b","x":0.24,"y":21.8},{"g":"G1","k":"b","x":0.36,"y":20.8},{"g":"G1","k":"b","x":0.53,"y":19.9},{"g":"G1","k":"b","x":0.82,"y":19.2},
   {"g":"G2","k":"b","x":1.16,"y":20.3},{"g":"G2","k":"b","x":1.27,"y":21.8},{"g":"G2","k":"b","x":1.37,"y":20.8},{"g":"G2","k":"b","x":1.53,"y":19.9},{"g":"G2","k":"b","x":1.8,"y":19.2},
   {"g":"G3","k":"b","x":2.16,"y":19.3},{"g":"G3","k":"b","x":2.31,"y":21.8},{"g":"G3","k":"b","x":2.35,"y":20.8},{"g":"G3","k":"b","x":2.41,"y":19.9},{"g":"G3","k":"b","x":2.51,"y":19.2},
   {"g":"G4","k":"b","x":3.4,"y":19.4},{"g":"G4","k":"b","x":3.44,"y":21.8},{"g":"G4","k":"b","x":3.45,"y":20.8},{"g":"G4","k":"b","x":3.47,"y":19.9},{"g":"G4","k":"b","x":3.49,"y":19.2},
   {"g":"H1","k":"r","x":0.16,"y":13.4},{"g":"H1","k":"r","x":0.44,"y":14.9},{"g":"H1","k":"r","x":0.52,"y":13.9},{"g":"H1","k":"r","x":0.63,"y":13.0},{"g":"H1","k":"r","x":0.82,"y":12.3},
   {"g":"H2","k":"r","x":1.18,"y":13.1},{"g":"H2","k":"r","x":1.33,"y":14.9},{"g":"H2","k":"r","x":1.43,"y":14.4},{"g":"H2","k":"r","x":1.57,"y":13.7},{"g":"H2","k":"r","x":1.8,"y":13.1},
   {"g":"H4","k":"r","x":3.18,"y":12.5},{"g":"H4","k":"r","x":3.4,"y":14.9},{"g":"H4","k":"r","x":3.48,"y":13.9},{"g":"H4","k":"r","x":3.6,"y":13.0},{"g":"H4","k":"r","x":3.8,"y":12.5},
   {"g":"I1","k":"r","x":0.18,"y":5.0},{"g":"I1","k":"r","x":0.36,"y":6.8},{"g":"I1","k":"r","x":0.45,"y":5.8},{"g":"I1","k":"r","x":0.59,"y":4.9},{"g":"I1","k":"r","x":0.82,"y":4.2},
   {"g":"I2","k":"r","x":1.18,"y":4.5},{"g":"I2","k":"r","x":1.33,"y":6.8},{"g":"I2","k":"r","x":1.43,"y":5.8},{"g":"I2","k":"r","x":1.57,"y":4.9},{"g":"I2","k":"r","x":1.8,"y":4.2},
   {"g":"I3","k":"r","x":2.16,"y":4.5},{"g":"I3","k":"r","x":2.33,"y":6.8},{"g":"I3","k":"r","x":2.43,"y":5.8},{"g":"I3","k":"r","x":2.57,"y":4.9},{"g":"I3","k":"r","x":2.8,"y":4.2},
   {"g":"I4","k":"r","x":3.42,"y":4.4},{"g":"I4","k":"r","x":3.49,"y":6.8},{"g":"I4","k":"r","x":3.51,"y":5.8},{"g":"I4","k":"r","x":3.53,"y":4.9},{"g":"I4","k":"r","x":3.58,"y":4.2},
   {"g":"I6","k":"r","x":5.24,"y":4.4},{"g":"I6","k":"r","x":5.36,"y":6.8},{"g":"I6","k":"r","x":5.38,"y":5.8},{"g":"I6","k":"r","x":5.41,"y":4.9},{"g":"I6","k":"r","x":5.47,"y":4.2},
   {"g":"I7","k":"r","x":6.16,"y":6.5},{"g":"I7","k":"r","x":6.22,"y":6.8},{"g":"I7","k":"r","x":6.34,"y":5.8},{"g":"I7","k":"r","x":6.51,"y":4.9},{"g":"I7","k":"r","x":6.8,"y":4.5},
   {"g":"I9","k":"r","x":8.18,"y":4.8},{"g":"I9","k":"r","x":8.42,"y":6.8},{"g":"I9","k":"r","x":8.5,"y":5.8},{"g":"I9","k":"r","x":8.61,"y":4.9},{"g":"I9","k":"r","x":8.8,"y":4.2}
  ],
  "circ": [
   {"x":0.4,"y":64.9},{"x":0.49,"y":64.9},{"x":1.42,"y":64.9},{"x":1.56,"y":64.9},{"x":2.33,"y":64.9},{"x":2.42,"y":64.9},{"x":3.33,"y":64.9},{"x":3.56,"y":64.9},{"x":4.22,"y":64.9},{"x":4.31,"y":64.9},{"x":5.22,"y":64.9},{"x":5.44,"y":64.9},{"x":6.24,"y":64.9},{"x":6.44,"y":64.9},{"x":7.36,"y":64.9},{"x":7.44,"y":64.9},{"x":8.33,"y":64.9},{"x":8.51,"y":64.9},{"x":9.36,"y":64.9},{"x":9.44,"y":64.9},{"x":10.24,"y":64.9},{"x":10.36,"y":64.9},{"x":11.36,"y":64.9},{"x":11.47,"y":64.9},{"x":12.47,"y":64.9},{"x":12.67,"y":64.9},{"x":13.31,"y":64.9},{"x":13.38,"y":64.9},{"x":14.44,"y":63.5},{"x":14.44,"y":66.3},{"x":15.42,"y":64.9},{"x":15.51,"y":64.9},{"x":16.29,"y":64.9},{"x":16.38,"y":64.9},{"x":17.33,"y":64.9},{"x":17.42,"y":64.9},{"x":18.24,"y":64.9},
   {"x":0.29,"y":58.0},{"x":0.47,"y":58.0},{"x":1.2,"y":58.0},{"x":1.4,"y":58.0},{"x":2.27,"y":58.0},{"x":2.4,"y":58.0},{"x":3.44,"y":56.6},{"x":3.44,"y":59.4},{"x":4.33,"y":58.0},{"x":4.4,"y":58.0},{"x":5.29,"y":58.0},{"x":5.49,"y":58.0},{"x":6.24,"y":58.0},{"x":6.47,"y":58.0},{"x":7.47,"y":58.0},{"x":7.56,"y":58.0},{"x":8.29,"y":58.0},{"x":9.36,"y":58.0},{"x":9.47,"y":58.0},{"x":10.33,"y":58.0},{"x":10.44,"y":58.0},{"x":11.33,"y":58.0},{"x":11.44,"y":58.0},{"x":12.4,"y":56.6},{"x":12.4,"y":59.4},{"x":13.22,"y":58.0},{"x":13.38,"y":58.0},
   {"x":0.27,"y":49.5},{"x":0.47,"y":49.5},{"x":1.2,"y":49.5},{"x":1.42,"y":49.5},{"x":2.24,"y":49.5},{"x":2.38,"y":49.5},{"x":3.42,"y":48.1},{"x":3.42,"y":50.9},{"x":4.29,"y":49.5},{"x":4.4,"y":49.5},{"x":5.38,"y":49.5},{"x":5.47,"y":49.5},{"x":6.27,"y":49.5},{"x":6.47,"y":49.5},{"x":7.42,"y":49.5},{"x":7.53,"y":49.5},{"x":8.31,"y":49.5},{"x":8.4,"y":49.5},{"x":9.44,"y":49.5},
   {"x":0.31,"y":42.7},{"x":0.4,"y":42.7},{"x":1.33,"y":42.7},{"x":1.44,"y":42.7},{"x":2.29,"y":42.7},
   {"x":0.22,"y":34.7},{"x":0.44,"y":34.7},{"x":1.18,"y":34.7},{"x":1.36,"y":34.7},{"x":2.24,"y":34.7},{"x":2.38,"y":34.7},{"x":3.33,"y":34.7},{"x":3.49,"y":34.7},{"x":4.31,"y":34.7},{"x":4.4,"y":34.7},{"x":5.31,"y":34.7},{"x":6.27,"y":34.7},{"x":6.47,"y":34.7},{"x":7.38,"y":34.7},{"x":7.6,"y":34.7},{"x":8.29,"y":33.3},{"x":8.29,"y":36.1},{"x":9.44,"y":33.3},{"x":9.44,"y":36.1},{"x":10.4,"y":34.7},{"x":10.53,"y":34.7},{"x":11.53,"y":34.7},
   {"x":0.18,"y":27.0},{"x":0.36,"y":27.0},{"x":1.44,"y":27.0},{"x":1.51,"y":27.0},{"x":2.29,"y":27.0},{"x":2.56,"y":27.0},{"x":3.27,"y":27.0},{"x":3.36,"y":27.0},{"x":4.44,"y":25.6},{"x":4.44,"y":28.4},{"x":5.4,"y":27.0},{"x":5.49,"y":27.0},{"x":6.27,"y":27.0},{"x":6.47,"y":27.0},{"x":7.33,"y":27.0},{"x":7.44,"y":27.0},{"x":8.24,"y":27.0},
   {"x":0.24,"y":19.0},{"x":0.47,"y":19.0},{"x":1.22,"y":19.0},{"x":1.4,"y":19.0},{"x":2.24,"y":19.0},{"x":2.36,"y":19.0},{"x":3.44,"y":19.0},{"x":3.49,"y":19.0},{"x":4.44,"y":17.6},{"x":4.44,"y":20.4},{"x":5.36,"y":19.0},
   {"x":0.36,"y":12.1},{"x":0.62,"y":12.1},{"x":1.31,"y":12.1},{"x":1.76,"y":12.1},{"x":2.49,"y":10.7},{"x":2.49,"y":13.5},{"x":3.33,"y":12.1},{"x":3.58,"y":12.1},{"x":4.33,"y":12.1},
   {"x":0.29,"y":4.0},{"x":0.51,"y":4.0},{"x":1.27,"y":4.0},{"x":1.42,"y":4.0},{"x":2.27,"y":4.0},{"x":2.44,"y":4.0},{"x":3.47,"y":4.0},{"x":3.56,"y":4.0},{"x":4.4,"y":2.6},{"x":4.4,"y":5.4},{"x":5.31,"y":4.0},{"x":5.4,"y":4.0},{"x":6.22,"y":4.0},{"x":6.58,"y":4.0},{"x":7.53,"y":2.6},{"x":7.53,"y":5.4},{"x":8.33,"y":4.0},{"x":8.64,"y":4.0},{"x":9.31,"y":4.0}
  ],
  "sq": [
   {"x":14.44,"y":64.9,"k":"b"},{"x":3.44,"y":58.0,"k":"r"},{"x":12.4,"y":58.0,"k":"r"},{"x":3.42,"y":49.5,"k":"b"},{"x":8.29,"y":34.7,"k":"r"},{"x":9.44,"y":34.7,"k":"r"},{"x":4.44,"y":27.0,"k":"r"},{"x":4.44,"y":19.0,"k":"b"},{"x":2.49,"y":12.1,"k":"r"},{"x":1.53,"y":12.1,"k":"r"},{"x":4.4,"y":4.0,"k":"r"},{"x":7.53,"y":4.0,"k":"r"}
  ]
 },
 "layer": [
  {
   "data": {"name": "hgrid"},
   "mark": {"type": "rule", "strokeDash": [1.5, 10.5], "color": "#333333", "strokeWidth": 1.5},
   "encoding": {
    "x": {"field": "x0", "type": "quantitative", "scale": {"domain": [-0.9778, 21.3333], "nice": false, "zero": false},
      "axis": {"title": "Number", "values": [0.866,1.866,2.866,3.866,4.866,5.866,6.866,7.866,8.866,9.866,10.866,11.866,12.866,13.866,14.866,15.866,16.866,17.866,18.866],
        "labelExpr": "'2'", "tickSize": 11, "tickWidth": 2.5, "tickColor": "#231f20", "domainColor": "#231f20", "domainWidth": 2.5,
        "labelFont": "Liberation Serif", "labelFontSize": 19, "labelColor": "#333333", "labelBaseline": "alphabetic", "labelPadding": 22, "labelAngle": 0,
        "labelFlush": false, "labelOverlap": false, "grid": false,
        "titleFont": "Liberation Serif", "titleFontSize": 21, "titleFontWeight": "normal", "titleColor": "#333333", "titleX": 488, "titleY": 64, "titleBaseline": "alphabetic", "titleAlign": "center"}},
    "x2": {"field": "x1"},
    "y": {"field": "y", "type": "quantitative", "scale": {"domain": [0, 72.2], "nice": false, "zero": false},
      "axis": {"title": "Value", "labels": false, "ticks": false, "domain": false, "grid": false,
        "titleFont": "Liberation Serif", "titleFontSize": 21, "titleFontWeight": "normal", "titleColor": "#333333", "titleX": -12, "titleY": 377, "titleAngle": -90, "titleBaseline": "alphabetic", "titleAlign": "center"}}
   }
  },
  {
   "data": {"name": "vgrid"},
   "mark": {"type": "rule", "strokeDash": [1.5, 10.5], "color": "#333333", "strokeWidth": 1.5},
   "encoding": {
    "x": {"field": "x", "type": "quantitative"},
    "y": {"datum": 0, "type": "quantitative"},
    "y2": {"datum": 69.2}
   }
  },
  {
   "data": {"name": "glyph"},
   "mark": {"type": "rect", "strokeWidth": 1.5},
   "encoding": {
    "x": {"field": "bl", "type": "quantitative"},
    "x2": {"field": "br"},
    "y": {"field": "y1", "type": "quantitative"},
    "y2": {"field": "y2"},
    "fill": {"condition": {"test": "datum.k == 'b'", "value": "#5b82a7"}, "value": "#ea876c"},
    "stroke": {"condition": {"test": "datum.k == 'b'", "value": "#a9bfd3"}, "value": "#f4b7a5"},
    "opacity": {"condition": {"test": "datum.t == 'N'", "value": 0.92}, "value": 0.45}
   }
  },
  {
   "data": {"name": "glyph"},
   "mark": {"type": "rule", "strokeWidth": 2.5},
   "encoding": {
    "x": {"field": "hl", "type": "quantitative"},
    "x2": {"field": "hr"},
    "y": {"field": "yc", "type": "quantitative"},
    "color": {"condition": {"test": "datum.k == 'b'", "value": "#6d8fb1"}, "value": "#e8866c"}
   }
  },
  {
   "data": {"name": "dens"},
   "mark": {"type": "line", "interpolate": "monotone", "strokeWidth": 2.4},
   "encoding": {
    "x": {"field": "x", "type": "quantitative"},
    "y": {"field": "y", "type": "quantitative"},
    "detail": {"field": "g"},
    "color": {"condition": {"test": "datum.k == 'b'", "value": "#0e4a70"}, "value": "#c0141f"}
   }
  },
  {
   "data": {"name": "circ"},
   "mark": {"type": "point", "shape": "circle", "filled": false, "fill": "white", "fillOpacity": 1, "stroke": "#f1502f", "strokeWidth": 1.8, "size": 165, "opacity": 1},
   "encoding": {
    "x": {"field": "x", "type": "quantitative"},
    "y": {"field": "y", "type": "quantitative"}
   }
  },
  {
   "data": {"name": "glyph"},
   "mark": {"type": "rule", "strokeWidth": 3, "color": "#6dcbcb"},
   "encoding": {
    "x": {"field": "cx", "type": "quantitative"},
    "y": {"field": "y1", "type": "quantitative"},
    "y2": {"field": "y2"}
   }
  },
  {
   "data": {"name": "sq"},
   "mark": {"type": "point", "shape": "square", "filled": true, "size": 60, "opacity": 1},
   "encoding": {
    "x": {"field": "x", "type": "quantitative"},
    "y": {"field": "y", "type": "quantitative"},
    "color": {"condition": {"test": "datum.k == 'b'", "value": "#0e4a70"}, "value": "#c0141f"}
   }
  },
  {
   "data": {"name": "vsolid"},
   "mark": {"type": "rule", "strokeWidth": 2.4, "color": "#231f20"},
   "encoding": {
    "x": {"field": "x", "type": "quantitative"},
    "y": {"datum": 0, "type": "quantitative"},
    "y2": {"datum": 72.2}
   }
  },
  {
   "data": {"name": "cols"},
   "mark": {"type": "rect", "fill": "white", "stroke": "#231f20", "strokeWidth": 2.4},
   "encoding": {
    "x": {"field": "a", "type": "quantitative"},
    "x2": {"field": "b"},
    "y": {"datum": 69.2, "type": "quantitative"},
    "y2": {"datum": 72.2}
   }
  },
  {
   "data": {"name": "cols"},
   "mark": {"type": "text", "align": "left", "baseline": "middle", "dx": 11, "font": "Liberation Serif", "fontSize": 20, "color": "#231f20"},
   "encoding": {
    "x": {"field": "a", "type": "quantitative"},
    "y": {"datum": 70.7, "type": "quantitative"},
    "text": {"field": "n"}
   }
  },
  {
   "data": {"name": "lstrip"},
   "mark": {"type": "rect", "fill": "white", "stroke": "#231f20", "strokeWidth": 2.4},
   "encoding": {
    "x": {"datum": -0.9778, "type": "quantitative"},
    "x2": {"datum": 0},
    "y": {"field": "y0", "type": "quantitative"},
    "y2": {"field": "y1"}
   }
  },
  {
   "data": {"name": "lstrip"},
   "mark": {"type": "text", "align": "left", "baseline": "middle", "dx": 4, "font": "Liberation Serif", "fontSize": 21, "color": "#231f20"},
   "encoding": {
    "x": {"datum": -0.9778, "type": "quantitative"},
    "y": {"field": "ly", "type": "quantitative"},
    "text": {"field": "lab"}
   }
  },
  {
   "data": {"name": "rstrip"},
   "mark": {"type": "rect", "fill": "white", "stroke": "#231f20", "strokeWidth": 2.4},
   "encoding": {
    "x": {"datum": 19, "type": "quantitative"},
    "x2": {"datum": 21.5},
    "y": {"field": "y0", "type": "quantitative"},
    "y2": {"field": "y1"}
   }
  },
  {
   "data": {"name": "rstrip"},
   "mark": {"type": "text", "align": "left", "baseline": "middle", "dx": 9, "font": "Liberation Serif", "fontSize": 21, "color": "#231f20"},
   "encoding": {
    "x": {"datum": 19, "type": "quantitative"},
    "y": {"field": "ly", "type": "quantitative"},
    "text": {"field": "lab"}
   }
  },
  {
   "data": {"name": "sticks"},
   "mark": {"type": "rule", "strokeWidth": 2.5, "color": "#231f20"},
   "encoding": {
    "x": {"field": "x", "type": "quantitative"},
    "y": {"datum": 0, "type": "quantitative"},
    "y2": {"datum": -0.55}
   }
  }
 ]
}
